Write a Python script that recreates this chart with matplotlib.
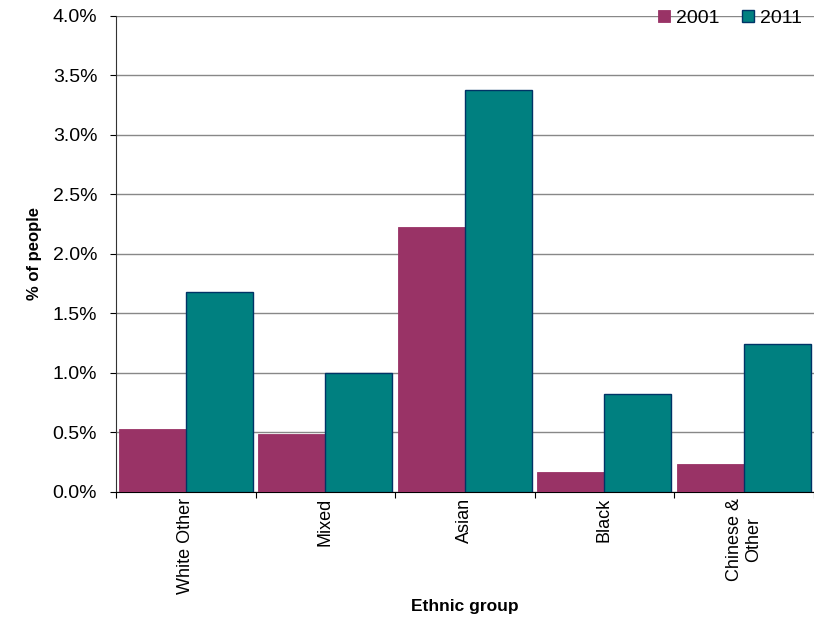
import matplotlib.pyplot as plt
import numpy as np

plt.rcParams['font.family'] = ['Liberation Sans', 'DejaVu Sans']

groups = ["White Other", "Mixed", "Asian", "Black", "Chinese &\nOther"]
years = ["2001", "2011"]
pct_2001 = [0.53, 0.49, 2.23, 0.17, 0.235]
pct_2011 = [1.68, 1.00, 3.375, 0.82, 1.24]


def main():
    fig = plt.figure(figsize=(8.14, 6.2), dpi=100)
    ax = fig.add_axes([0.1425, 0.2065, 0.857, 0.7677])

    x = np.arange(len(groups))
    w = 0.48
    ax.bar(x - w / 2, pct_2001, w, color="#993366", edgecolor="#993366",
           linewidth=0.6, label=years[0], zorder=3)
    ax.bar(x + w / 2, pct_2011, w, color="#008080", edgecolor="#003366",
           linewidth=1.0, label=years[1], zorder=3)

    ax.set_xlim(-0.5, len(groups) - 0.5)
    ax.set_ylim(0, 4.0)
    yt = np.arange(0, 4.01, 0.5)
    ax.set_yticks(yt)
    ax.set_yticklabels(["{:.1f}%".format(v) for v in yt], fontsize=14)
    ax.yaxis.grid(True, color="#888888", linewidth=1.0, zorder=0)

    # boundaries get the tick marks, names sit in the middle
    ax.set_xticks(np.arange(-0.5, len(groups), 1.0))
    ax.set_xticklabels([])
    ax.set_xticks(x, minor=True)
    ax.set_xticklabels(groups, minor=True, rotation=90, fontsize=13,
                       ha="center", va="top", multialignment="center")
    ax.tick_params(axis="x", which="minor", length=0, pad=4)
    ax.tick_params(axis="x", which="major", length=4.5, direction="out")
    ax.tick_params(axis="y", length=4.5, direction="out", pad=9)

    for s in ["top", "right"]:
        ax.spines[s].set_visible(False)
    ax.spines["left"].set_color("#333333")
    ax.spines["bottom"].set_color("#000000")

    ax.set_ylabel("% of people", fontsize=12, fontweight="bold", labelpad=8)
    ax.set_xlabel("Ethnic group", fontsize=12.5, fontweight="bold", labelpad=4)

    ax.legend(loc="center right", ncol=2, frameon=False, fontsize=14,
              handlelength=0.6, handleheight=0.6, handletextpad=0.3,
              columnspacing=1.2, borderaxespad=0.2,
              bbox_to_anchor=(1.0, 0.995))

    fig.savefig("out.png", dpi=100)


if __name__ == "__main__":
    main()
